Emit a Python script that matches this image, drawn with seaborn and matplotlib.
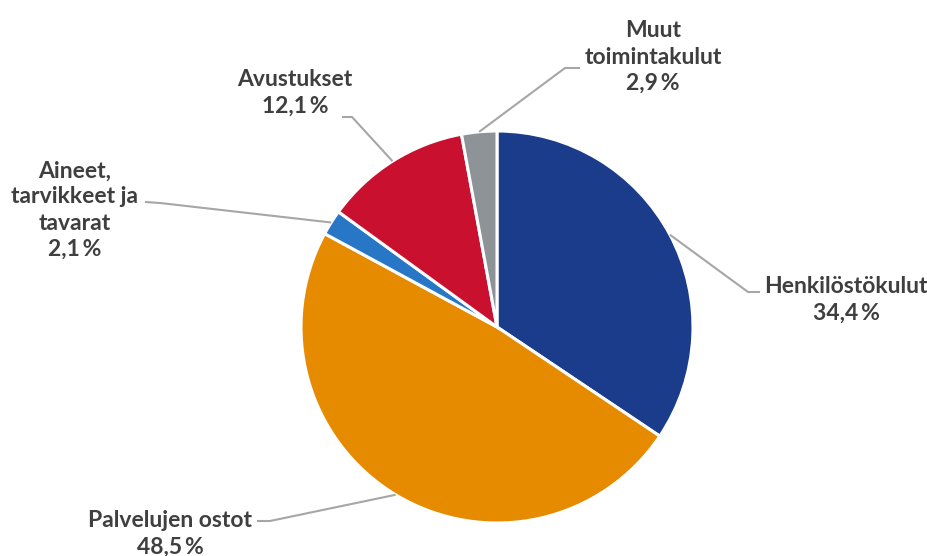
import numpy as np
import matplotlib
matplotlib.use("Agg")
import matplotlib.pyplot as plt
import seaborn as sns

# Data
categories = ["Henkilöstökulut", "Palvelujen ostot", "Aineet,\ntarvikkeet ja\ntavarat",
              "Avustukset", "Muut\ntoimintakulut"]
shares = [34.4, 48.5, 2.1, 12.1, 2.9]
colors = ["#1B3C8B", "#E68A00", "#2877C6", "#C9102F", "#8E9397"]

sns.set_theme(style="white")
plt.rcParams['font.family'] = ['Lato', 'DejaVu Sans']

fig = plt.figure(figsize=(9.28, 5.56), dpi=100)
ax = fig.add_axes([0, 0, 1, 1])

cx, cy, r = 497, 556 - 327, 196
wedges, _ = ax.pie(shares, colors=colors, startangle=90, counterclock=False,
                   center=(cx, cy), radius=r, frame=True,
                   wedgeprops=dict(edgecolor="white", linewidth=2.2))
ax.set_xlim(0, 928)
ax.set_ylim(0, 556)
ax.axis("off")

# label layout: text center (px from top-left), elbow point, line end near text
layout = [
    dict(text=(846, 300), elbow=(748, 292), end=(760, 292)),
    dict(text=(170, 534), elbow=(270, 521), end=(257, 521)),
    dict(text=(75, 210), elbow=(160, 203), end=(145, 202)),
    dict(text=(295, 93), elbow=(352, 117), end=(342, 117)),
    dict(text=(653, 57), elbow=(565, 68), end=(580, 68)),
]

for w, cat, val, lay in zip(wedges, categories, shares, layout):
    ang = np.deg2rad((w.theta1 + w.theta2) / 2)
    x0, y0 = cx + r * np.cos(ang), cy + r * np.sin(ang)
    ex, ey = lay["elbow"]
    fx, fy = lay["end"]
    ax.plot([x0, ex, fx], [y0, 556 - ey, 556 - fy], color="#A6A6A6", lw=1.5,
            solid_capstyle="butt", zorder=1)
    tx, ty = lay["text"]
    label = f"{cat}\n{str(val).replace('.', ',')}\u2009%"
    ax.text(tx, 556 - ty, label, ha="center", va="center", fontsize=16.5,
            fontweight="bold", color="#3F3F3F", linespacing=1.3)

fig.savefig("out.png", dpi=100)
